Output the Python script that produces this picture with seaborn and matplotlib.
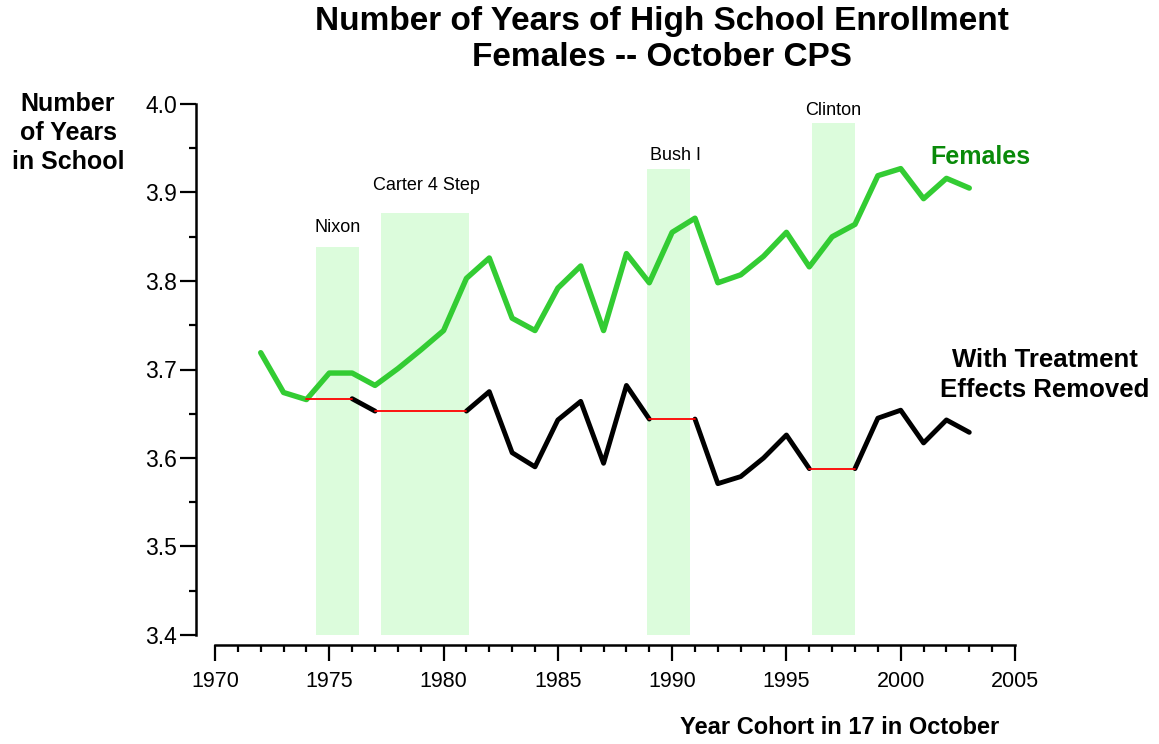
import numpy as np
import pandas as pd
import matplotlib.pyplot as plt
from matplotlib.ticker import MultipleLocator
import seaborn as sns

# Data
years = list(range(1972, 2004))
females = [3.719, 3.674, 3.666, 3.696, 3.696, 3.682, 3.701, 3.722, 3.744, 3.803,
           3.826, 3.758, 3.744, 3.792, 3.817, 3.744, 3.831, 3.798, 3.855, 3.871,
           3.798, 3.807, 3.828, 3.855, 3.816, 3.850, 3.864, 3.919, 3.927, 3.893,
           3.916, 3.905]

adj_years = list(range(1974, 2004))
adjusted = [3.667, 3.667, 3.667, 3.653, 3.653, 3.653, 3.653, 3.653,
            3.675, 3.606, 3.590, 3.643, 3.664, 3.594, 3.682, 3.644, 3.644, 3.644,
            3.571, 3.579, 3.600, 3.626, 3.588, 3.588, 3.588, 3.645, 3.654, 3.617,
            3.643, 3.629]

# years where the treatment effect is held flat (red segments)
held_start = [1974, 1977, 1989, 1996]
held_end   = [1976, 1981, 1991, 1998]

# shaded administration bands
band_names = ['Nixon', 'Carter 4 Step', 'Bush I', 'Clinton']
band_left  = [1974.4, 1977.25, 1988.9, 1996.1]
band_right = [1976.3, 1981.1, 1990.8, 1998.0]
band_top   = [3.838, 3.877, 3.926, 3.979]

# label nudges (points) above each band
label_dx = [0, 1, 5, 0]
label_dy = [14.5, 20, 10, 8.5]

adj = pd.Series(adjusted, index=adj_years)

# black segments run between the held spans
black_rows = []
for i, end in enumerate(held_end):
    stop = held_start[i + 1] if i + 1 < len(held_start) else adj_years[-1]
    for yr in range(end, stop + 1):
        black_rows.append({'year': yr, 'value': adj[yr], 'seg': i})
black_df = pd.DataFrame(black_rows)

red_rows = []
for i, (s, e) in enumerate(zip(held_start, held_end)):
    for yr in range(s, e + 1):
        red_rows.append({'year': yr, 'value': adj[s], 'seg': i})
red_df = pd.DataFrame(red_rows)

fem_df = pd.DataFrame({'year': years, 'value': females})

## Plot
sns.set_style('ticks')
plt.rcParams['font.family'] = ['Liberation Sans', 'DejaVu Sans']
plt.rcParams['text.color'] = 'black'
plt.rcParams['xtick.color'] = 'black'
plt.rcParams['ytick.color'] = 'black'
plt.rcParams['axes.edgecolor'] = 'black'

fig = plt.figure(figsize=(11.59, 7.44), dpi=100)
ax = fig.add_axes([215/1159, 1-635/744, 800/1159, 531/744])

ax.bar(band_left, np.array(band_top) - 3.4, width=np.array(band_right) - np.array(band_left),
       bottom=3.4, align='edge', color='#dcfcdc', linewidth=0, zorder=1)
for name, l, r, t, dx, dy in zip(band_names, band_left, band_right, band_top, label_dx, label_dy):
    ax.annotate(name, xy=((l + r) / 2, t), xytext=(dx, dy), textcoords='offset points',
                ha='center', va='center', fontsize=13)

sns.lineplot(data=fem_df, x='year', y='value', color='#33cc33', lw=3.9, ax=ax, zorder=3)
sns.lineplot(data=black_df, x='year', y='value', units='seg', estimator=None,
             color='black', lw=3.5, ax=ax, zorder=3)
sns.lineplot(data=red_df, x='year', y='value', units='seg', estimator=None,
             color='#ff0000', lw=1.3, ax=ax, zorder=4)

ax.set_xlim(1970, 2005)
ax.set_ylim(3.4, 4.0)
ax.xaxis.set_major_locator(MultipleLocator(5))
ax.xaxis.set_minor_locator(MultipleLocator(1))
ax.yaxis.set_major_locator(MultipleLocator(0.1))
ax.yaxis.set_minor_locator(MultipleLocator(0.05))
ax.yaxis.set_major_formatter(plt.FormatStrFormatter('%.1f'))

sns.despine(ax=ax)
ax.spines['left'].set_position(('outward', 13.7))
ax.spines['bottom'].set_position(('outward', 7.2))
for sp in ['left', 'bottom']:
    ax.spines[sp].set_linewidth(1.8)
ax.tick_params(which='major', direction='out', length=11.5, width=1.6)
ax.tick_params(which='minor', direction='out', length=5, width=1.6)
ax.tick_params(axis='y', which='major', labelsize=16.5, pad=2)
ax.tick_params(axis='x', which='major', labelsize=15.5, pad=7)
ax.set_xlabel('')
ax.set_ylabel('')

# Titles and labels
fig.text(662/1159, 1-39.5/744, 'Number of Years of High School Enrollment\nFemales -- October CPS',
         ha='center', va='center', fontsize=24, fontweight='bold', linespacing=1.22)
fig.text(68/1159, 1-133/744, 'Number\nof Years\nin School', ha='center', va='center',
         fontsize=18, fontweight='bold', linespacing=1.28)
fig.text(980/1159, 1-157/744, 'Females', ha='center', va='center',
         fontsize=18, fontweight='bold', color='#0a8a0a')
fig.text(1045/1159, 1-375/744, 'With Treatment\nEffects Removed', ha='center', va='center',
         fontsize=18.5, fontweight='bold', linespacing=1.3)
fig.text(999/1159, 1-728/744, 'Year Cohort in 17 in October', ha='right', va='center',
         fontsize=17, fontweight='bold')

plt.savefig('out.png', dpi=100)
